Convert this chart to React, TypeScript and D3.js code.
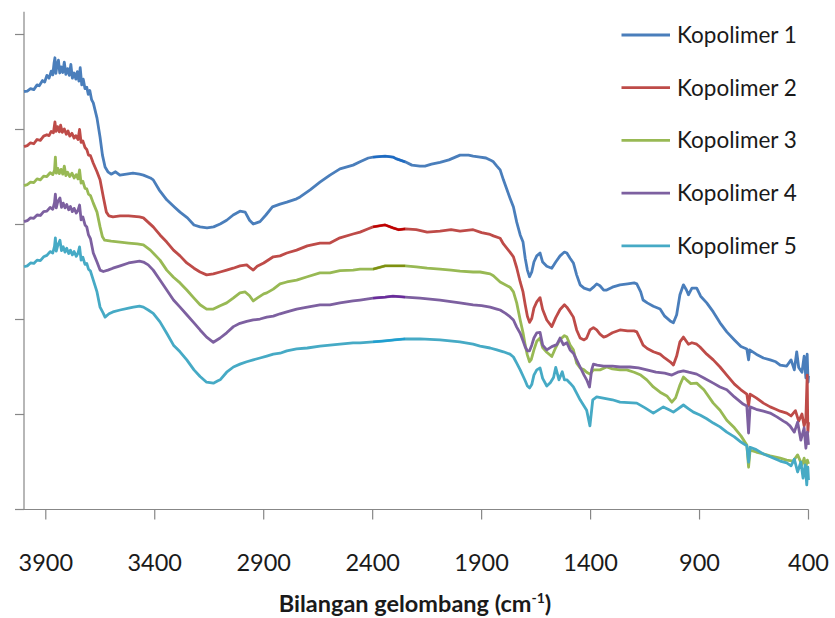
import React from "react";
import * as d3 from "d3";

type Pt = [number, number];

const seriesNames = ["Kopolimer 1", "Kopolimer 2", "Kopolimer 3", "Kopolimer 4", "Kopolimer 5"];
const xTickValues = [3900, 3400, 2900, 2400, 1900, 1400, 900, 400];
const yTickValues = [0, 20, 40, 60, 80, 100];
const xDomain: [number, number] = [4000, 400];
const yDomain: [number, number] = [0, 104.8];
const axisTitle = "Bilangan gelombang (cm";
const axisTitleSup = "-1";

const kopolimer1: Pt[] = [[4000,88.0],[3985,88.1],[3970,88.6],[3955,88.4],[3940,89.4],[3930,89.2],[3915,90.3],[3905,90.0],[3895,91.4],[3885,90.8],[3875,92.3],[3868,91.5],[3862,94.0],[3858,95.1],[3854,91.8],[3848,93.6],[3842,94.6],[3836,91.9],[3830,93.2],[3822,92.0],[3815,94.2],[3808,91.6],[3800,92.8],[3792,91.4],[3785,93.7],[3778,90.8],[3770,91.9],[3762,90.6],[3755,92.2],[3748,90.2],[3742,93.0],[3735,89.4],[3728,90.6],[3720,88.6],[3712,88.9],[3705,87.4],[3698,88.2],[3690,86.3],[3682,85.6],[3665,82.4],[3651,78.4],[3640,74.6],[3628,72.1],[3615,71.1],[3600,70.6],[3580,71.1],[3560,70.4],[3530,70.6],[3500,70.8],[3470,70.6],[3452,70.4],[3420,69.8],[3407,69.4],[3380,67.3],[3345,65.2],[3310,63.7],[3284,62.6],[3250,61.4],[3220,59.9],[3192,59.5],[3160,59.3],[3130,59.5],[3100,60.1],[3070,60.9],[3040,62.0],[3009,62.8],[2985,62.6],[2965,60.9],[2948,60.1],[2930,60.4],[2917,60.6],[2890,62.0],[2860,63.7],[2825,64.3],[2794,64.7],[2749,65.4],[2733,65.8],[2687,67.3],[2642,68.9],[2596,70.4],[2550,71.7],[2490,72.5],[2458,73.2],[2420,74.0],[2398,74.2],[2343,74.4],[2307,74.2],[2290,73.8],[2251,73.2],[2220,72.5],[2183,72.3],[2160,72.3],[2130,72.7],[2091,73.1],[2050,73.6],[1999,74.6],[1960,74.6],[1939,74.4],[1907,74.2],[1880,74.0],[1861,73.6],[1846,73.2],[1830,72.3],[1815,71.5],[1800,69.4],[1770,65.6],[1754,63.7],[1739,60.5],[1723,57.8],[1710,56.3],[1700,52.9],[1690,50.4],[1680,49.0],[1670,50.0],[1660,52.1],[1647,53.4],[1632,54.0],[1620,52.1],[1601,51.2],[1578,50.8],[1560,52.1],[1540,53.4],[1520,54.2],[1509,54.0],[1494,52.9],[1479,51.9],[1464,49.4],[1448,47.3],[1430,46.6],[1403,46.2],[1387,46.8],[1372,47.5],[1357,47.1],[1340,46.2],[1326,46.2],[1300,46.8],[1265,47.3],[1230,47.5],[1200,47.7],[1188,47.5],[1170,45.8],[1159,44.1],[1140,43.5],[1112,42.8],[1081,42.2],[1060,40.7],[1035,39.7],[1020,39.3],[1005,41.0],[990,45.2],[974,47.3],[960,46.2],[951,45.2],[935,46.6],[913,46.6],[895,44.9],[867,43.5],[837,41.6],[806,39.3],[775,37.4],[740,35.7],[710,34.3],[683,33.8],[675,31.5],[670,33.6],[640,32.7],[607,31.9],[576,31.5],[550,31.1],[530,30.4],[500,30.2],[480,31.5],[465,29.4],[454,33.2],[445,29.9],[430,28.9],[420,32.3],[412,27.7],[406,32.7],[402,26.8],[400,28.1]];

const kopolimer2: Pt[] = [[4000,76.4],[3985,76.6],[3970,77.2],[3955,77.0],[3940,77.9],[3925,77.7],[3910,78.6],[3895,78.9],[3885,78.7],[3875,79.6],[3865,79.3],[3858,81.6],[3853,79.6],[3846,80.6],[3838,79.5],[3832,80.9],[3824,79.4],[3815,80.1],[3806,79.0],[3798,79.7],[3790,78.6],[3780,79.2],[3770,78.2],[3762,78.7],[3752,77.9],[3745,80.0],[3738,77.3],[3730,77.6],[3720,76.2],[3712,75.8],[3704,74.6],[3695,74.5],[3682,72.9],[3665,71.1],[3651,69.4],[3636,65.8],[3622,62.6],[3610,61.8],[3592,61.6],[3559,61.8],[3520,61.8],[3470,61.6],[3452,61.4],[3407,59.5],[3376,57.8],[3345,56.3],[3314,54.6],[3284,53.4],[3253,51.9],[3220,50.8],[3192,50.0],[3162,49.4],[3131,49.6],[3100,50.0],[3070,50.4],[3040,50.8],[3009,51.3],[2978,51.5],[2960,50.8],[2948,50.4],[2930,51.2],[2900,51.9],[2856,53.2],[2825,53.4],[2794,54.0],[2749,54.6],[2700,55.5],[2642,56.1],[2596,56.1],[2550,57.2],[2490,58.0],[2458,58.4],[2420,59.1],[2398,59.5],[2343,59.9],[2307,59.3],[2280,58.9],[2251,59.1],[2200,58.9],[2150,58.4],[2091,58.6],[2040,58.9],[1999,58.6],[1939,58.9],[1900,58.3],[1861,57.9],[1846,57.6],[1815,57.1],[1800,55.9],[1770,54.2],[1754,53.2],[1739,50.9],[1723,47.9],[1710,45.8],[1700,43.1],[1690,40.7],[1680,39.4],[1670,40.2],[1660,42.4],[1647,43.7],[1632,44.6],[1620,42.1],[1601,39.9],[1578,38.5],[1560,40.4],[1540,42.1],[1520,43.1],[1509,42.6],[1494,41.6],[1479,40.5],[1464,37.8],[1448,36.1],[1430,35.7],[1418,36.1],[1403,37.8],[1387,38.3],[1372,37.8],[1357,36.9],[1340,36.3],[1326,36.5],[1300,37.2],[1265,37.8],[1230,37.6],[1200,37.6],[1188,37.4],[1170,35.7],[1159,34.6],[1140,33.9],[1112,33.2],[1081,32.7],[1060,31.9],[1035,31.1],[1020,30.4],[1005,32.3],[990,35.3],[974,36.3],[951,34.8],[935,35.1],[913,34.8],[898,34.2],[867,32.7],[837,31.5],[806,30.0],[775,28.3],[740,26.4],[710,25.2],[683,24.3],[675,21.8],[668,24.3],[640,23.5],[607,22.4],[576,21.6],[550,21.1],[530,20.7],[500,20.3],[480,19.7],[460,20.8],[445,18.6],[430,20.1],[420,17.6],[412,19.1],[406,28.3],[403,16.3],[400,18.4]];

const kopolimer3: Pt[] = [[4000,68.2],[3985,68.4],[3970,68.9],[3955,68.8],[3940,69.6],[3925,69.4],[3910,70.2],[3895,70.1],[3880,70.9],[3868,70.5],[3860,71.4],[3856,74.2],[3852,70.8],[3845,71.8],[3838,70.7],[3830,71.6],[3822,70.6],[3815,72.3],[3808,70.3],[3800,71.0],[3790,70.1],[3780,70.8],[3770,69.8],[3760,70.5],[3752,69.6],[3745,71.5],[3738,68.7],[3730,69.1],[3720,67.6],[3712,67.5],[3704,66.4],[3695,66.1],[3682,64.5],[3665,62.6],[3651,59.5],[3640,57.4],[3630,56.7],[3600,56.5],[3559,56.3],[3520,56.1],[3480,55.9],[3452,55.7],[3420,54.6],[3376,52.5],[3345,50.4],[3314,48.9],[3284,47.7],[3253,46.2],[3220,44.5],[3192,43.1],[3162,42.2],[3131,42.2],[3100,42.9],[3070,43.5],[3040,44.5],[3009,45.6],[2985,45.8],[2965,45.0],[2948,43.9],[2930,44.5],[2900,45.4],[2886,45.6],[2856,46.4],[2825,47.5],[2794,47.9],[2749,48.3],[2700,49.0],[2642,49.8],[2596,49.8],[2550,50.3],[2490,50.4],[2458,50.6],[2398,50.6],[2343,51.3],[2300,51.3],[2251,51.3],[2200,51.1],[2150,50.8],[2091,50.6],[2040,50.4],[1999,50.2],[1939,50.0],[1907,50.0],[1861,49.6],[1846,49.2],[1815,47.9],[1770,46.8],[1754,45.8],[1739,43.5],[1723,39.9],[1710,37.2],[1700,34.6],[1690,32.5],[1680,31.1],[1672,31.6],[1660,33.6],[1647,35.4],[1632,36.1],[1620,34.1],[1601,33.1],[1578,32.2],[1560,34.1],[1540,35.8],[1520,36.6],[1509,36.3],[1494,34.6],[1479,33.6],[1464,30.8],[1448,29.8],[1430,29.4],[1418,28.9],[1403,28.5],[1387,29.4],[1357,29.4],[1326,30.0],[1300,29.6],[1265,29.4],[1234,29.4],[1200,28.9],[1170,28.3],[1142,27.3],[1112,25.8],[1081,24.7],[1050,23.9],[1027,22.6],[1010,23.5],[990,26.2],[974,27.9],[960,27.3],[940,26.5],[913,26.6],[880,25.2],[837,22.4],[806,20.9],[775,18.8],[740,17.2],[710,15.5],[683,13.6],[675,8.9],[668,12.5],[640,12.1],[607,11.7],[576,11.3],[530,10.8],[500,10.4],[470,10.2],[450,11.5],[430,9.4],[420,10.8],[412,8.9],[405,10.4],[400,9.6]];

const kopolimer4: Pt[] = [[4000,60.6],[3985,60.8],[3970,61.4],[3955,61.3],[3940,62.0],[3925,61.9],[3910,62.7],[3895,62.8],[3880,63.6],[3868,63.2],[3860,64.6],[3856,66.4],[3852,63.5],[3845,64.8],[3835,65.6],[3828,63.6],[3820,64.5],[3812,63.5],[3804,64.2],[3795,63.1],[3787,63.8],[3778,62.7],[3770,63.4],[3760,62.4],[3752,63.0],[3745,64.1],[3738,61.0],[3730,61.6],[3720,59.9],[3712,59.5],[3704,57.8],[3695,57.0],[3682,54.0],[3665,52.1],[3651,50.4],[3636,50.1],[3615,50.4],[3592,50.8],[3559,51.3],[3520,51.9],[3498,52.1],[3470,52.3],[3452,52.1],[3430,51.5],[3407,50.4],[3376,48.3],[3345,46.2],[3314,44.1],[3284,42.6],[3253,41.0],[3220,39.3],[3192,37.8],[3162,36.3],[3131,35.2],[3100,36.1],[3070,37.2],[3039,38.5],[3009,39.2],[2978,39.6],[2948,39.9],[2917,40.1],[2886,40.5],[2856,40.7],[2825,41.2],[2794,41.6],[2749,42.2],[2700,42.6],[2642,43.1],[2596,43.1],[2550,43.5],[2490,43.9],[2458,44.1],[2398,44.5],[2343,44.7],[2307,44.9],[2251,44.7],[2183,44.5],[2091,44.1],[2000,43.5],[1939,43.1],[1900,42.9],[1861,42.6],[1830,42.2],[1815,42.0],[1790,41.3],[1770,40.6],[1754,39.9],[1739,38.4],[1723,37.1],[1710,35.5],[1700,34.2],[1690,33.4],[1680,33.4],[1670,34.6],[1660,36.1],[1647,37.2],[1632,37.3],[1620,34.6],[1601,33.6],[1578,34.3],[1555,34.7],[1540,36.1],[1525,34.7],[1509,35.1],[1494,33.6],[1479,32.9],[1464,31.5],[1448,30.0],[1430,28.3],[1418,27.3],[1405,25.8],[1395,29.4],[1387,30.6],[1370,30.4],[1340,30.2],[1300,30.2],[1265,30.0],[1219,30.0],[1180,29.8],[1142,29.4],[1100,28.9],[1060,28.7],[1027,28.3],[1000,28.9],[974,29.2],[950,28.9],[913,28.5],[880,27.7],[837,26.6],[806,25.8],[775,25.2],[740,23.7],[700,22.2],[683,21.8],[675,16.1],[668,21.6],[640,21.1],[607,20.7],[576,20.3],[545,19.5],[515,18.6],[500,18.2],[485,17.6],[465,16.3],[450,18.4],[435,14.6],[420,17.2],[412,12.9],[405,16.3],[400,13.6]];

const kopolimer5: Pt[] = [[4000,51.1],[3985,51.3],[3970,51.9],[3955,51.8],[3940,52.5],[3925,52.4],[3910,53.2],[3895,53.5],[3880,54.3],[3868,54.0],[3860,55.4],[3856,57.2],[3852,54.4],[3845,55.6],[3835,56.7],[3828,54.5],[3820,55.3],[3812,54.2],[3804,55.0],[3795,53.9],[3787,54.6],[3778,53.6],[3770,54.3],[3760,53.3],[3752,54.0],[3745,55.3],[3738,52.5],[3730,53.1],[3720,51.6],[3712,51.8],[3704,50.6],[3695,50.2],[3682,48.3],[3665,45.8],[3651,42.6],[3636,41.3],[3628,40.5],[3610,41.2],[3592,41.6],[3559,42.0],[3520,42.4],[3498,42.6],[3470,42.8],[3452,42.6],[3430,42.0],[3407,41.3],[3376,39.5],[3345,37.1],[3314,34.6],[3284,33.2],[3253,31.5],[3220,29.4],[3192,28.0],[3162,26.8],[3131,26.6],[3110,27.1],[3100,27.3],[3070,28.9],[3039,30.0],[3009,30.6],[2978,31.1],[2948,31.5],[2917,31.9],[2886,32.3],[2856,32.7],[2825,32.9],[2794,33.4],[2749,33.8],[2700,34.0],[2642,34.4],[2596,34.6],[2550,34.8],[2490,35.1],[2458,35.1],[2398,35.3],[2343,35.5],[2300,35.7],[2251,35.9],[2183,35.9],[2091,35.7],[2000,35.3],[1939,34.8],[1907,34.4],[1861,34.0],[1830,33.6],[1800,33.2],[1770,32.7],[1754,32.1],[1739,30.8],[1723,29.4],[1710,28.1],[1700,27.1],[1690,26.0],[1680,25.6],[1670,26.3],[1660,28.3],[1647,29.4],[1632,29.8],[1620,27.6],[1601,26.0],[1585,26.7],[1570,27.8],[1560,29.9],[1545,27.3],[1530,29.0],[1520,27.3],[1509,27.3],[1494,26.6],[1479,25.8],[1464,24.5],[1448,23.1],[1418,20.9],[1403,17.6],[1390,23.1],[1372,23.7],[1300,23.1],[1265,22.6],[1188,22.4],[1150,21.4],[1112,20.3],[1066,21.6],[1040,21.0],[1020,20.5],[974,22.0],[950,21.2],[928,20.5],[898,19.9],[867,19.1],[837,18.2],[806,17.4],[775,16.3],[740,15.3],[710,14.2],[683,13.4],[675,10.0],[668,13.1],[640,12.6],[607,11.7],[576,11.1],[530,10.2],[500,9.8],[480,9.2],[465,10.6],[450,7.9],[435,10.0],[425,6.6],[415,9.4],[408,5.2],[403,8.9],[400,6.2]];

const seriesData: Pt[][] = [kopolimer1, kopolimer2, kopolimer3, kopolimer4, kopolimer5];
const seriesColors = ["#4A7EBB", "#BE4B48", "#98B954", "#7D60A0", "#46AAC5"];
const seriesDarkColors = ["#1C6BC4", "#C00000", "#7F8F10", "#6A2A9C", "#1E9FD2"];
const flatRange: [number, number] = [2398, 2251];

const FONT = "Lato, 'Liberation Sans Narrow', 'Open Sans', sans-serif";

export default function App() {
  const x = d3.scaleLinear().domain(xDomain).range([24, 808.5]);
  const y = d3.scaleLinear().domain([0, 100]).range([509.5, 34.5]);
  const line = d3.line<Pt>().x((d) => x(d[0])).y((d) => y(d[1]));
  const axisColor = "#878787";
  const yTop = y(yDomain[1]);

  return (
    <svg
      width={835}
      height={618}
      style={{ position: "absolute", left: 0, top: 0, display: "block", background: "#fff" }}
    >
      {/* axes */}
      <line x1={x(xDomain[0])} x2={x(xDomain[0])} y1={yTop} y2={y(0)} stroke={axisColor} strokeWidth={1.2} />
      <line x1={15} x2={x(xDomain[1])} y1={y(0)} y2={y(0)} stroke={axisColor} strokeWidth={1.2} />
      {yTickValues.map((t) => (
        <line key={"yt" + t} x1={15} x2={x(xDomain[0])} y1={y(t)} y2={y(t)} stroke={axisColor} strokeWidth={1.2} />
      ))}
      {xTickValues.map((t) => (
        <g key={"xt" + t}>
          <line x1={x(t)} x2={x(t)} y1={y(0)} y2={y(0) + 10} stroke={axisColor} strokeWidth={1.2} />
          <text x={x(t)} y={571} textAnchor="middle" fontFamily={FONT} fontSize={23.5} fill="#1a1a1a">
            {t}
          </text>
        </g>
      ))}
      <text x={415} y={612} textAnchor="middle" fontFamily={FONT} fontSize={23.5} fontWeight="bold" fill="#1a1a1a">
        {axisTitle}
        <tspan fontSize={14} dy={-9}>{axisTitleSup}</tspan>
        <tspan dy={9}>)</tspan>
      </text>

      {/* series */}
      {seriesData.map((s, i) => (
        <path key={"s" + i} d={line(s) || ""} fill="none" stroke={seriesColors[i]} strokeWidth={2.8} strokeLinejoin="round" />
      ))}
      {seriesData.map((s, i) => (
        <path
          key={"f" + i}
          d={line(s.filter((p) => p[0] <= flatRange[0] && p[0] >= flatRange[1])) || ""}
          fill="none"
          stroke={seriesDarkColors[i]}
          strokeWidth={2.3}
        />
      ))}

      {/* legend */}
      {seriesNames.map((n, i) => {
        const ly = 35 + i * 52.7;
        return (
          <g key={"lg" + i}>
            <line x1={621.5} x2={670} y1={ly} y2={ly} stroke={seriesColors[i]} strokeWidth={2.8} />
            <text x={677} y={ly + 8} fontFamily={FONT} fontSize={22.5} fill="#1a1a1a">
              {n}
            </text>
          </g>
        );
      })}
    </svg>
  );
}
